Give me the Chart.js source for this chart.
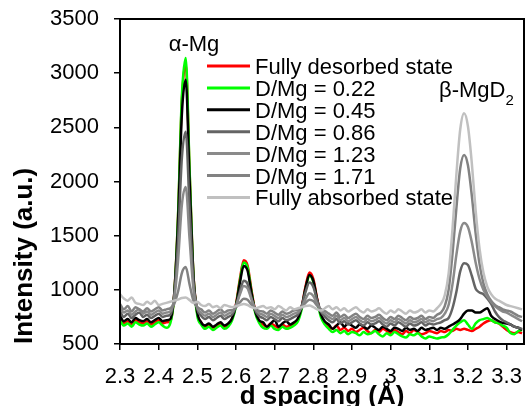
<!DOCTYPE html>
<html>
<head>
<meta charset="utf-8">
<script src="https://cdn.jsdelivr.net/npm/chart.js@4.4.0/dist/chart.umd.min.js"></script>
<style>
  html, body { margin: 0; padding: 0; background: #fff; }
</style>
</head>
<body>
<canvas id="myChart" width="529" height="406"></canvas>
<script>
// d spacing values (Å), one per measured point
const dSpacing = [
  2.30, 2.31, 2.32, 2.33, 2.34, 2.35, 2.36, 2.37, 2.38, 2.39, 2.40, 2.41, 2.42, 2.43,
  2.44, 2.45, 2.46, 2.47, 2.48, 2.49, 2.50,
  2.51, 2.52, 2.53, 2.54, 2.55, 2.56, 2.57, 2.58,
  2.59, 2.60, 2.61, 2.62, 2.63, 2.64, 2.65, 2.66,
  2.67, 2.68, 2.69, 2.70, 2.71, 2.72, 2.73, 2.74, 2.75,
  2.76, 2.77, 2.78, 2.79, 2.80, 2.81, 2.82, 2.83,
  2.84, 2.85, 2.86, 2.87, 2.88, 2.89, 2.90, 2.91, 2.92, 2.93, 2.94, 2.95, 2.96, 2.97,
  2.98, 2.99, 3.00, 3.01, 3.02, 3.03, 3.04, 3.05, 3.06, 3.07, 3.08, 3.09, 3.10, 3.11,
  3.12, 3.13, 3.14, 3.15, 3.16, 3.17, 3.18, 3.19, 3.20, 3.21, 3.22, 3.23, 3.24, 3.25,
  3.26, 3.27, 3.28, 3.29, 3.30, 3.31, 3.32, 3.33, 3.34
];

const desorbed = [
  740, 690, 710, 680, 720, 700, 690, 710, 680, 700, 720, 690, 700, 710,
  948, 1662, 2745, 3090, 2090, 1138, 780,
  700, 660, 680, 650, 670, 690, 660, 680,
  734, 868, 1097, 1273, 1225, 1000, 801, 710,
  680, 660, 690, 670, 650, 680, 660, 670, 690,
  724, 842, 1033, 1160, 1101, 915, 763, 695,
  660, 640, 670, 630, 650, 620, 640, 610, 630, 650, 620, 600, 630, 610,
  640, 620, 600, 630, 610, 590, 620, 600, 630, 610, 590, 600, 620, 610,
  600, 620, 610, 630, 620, 640, 630, 640, 630, 620, 640, 660, 690, 710,
  720, 700, 690, 660, 630, 610, 600, 610, 600
];
const dmg022 = [
  720, 670, 690, 660, 700, 680, 670, 690, 660, 680, 700, 670, 650, 690,
  935, 1670, 2785, 3140, 2111, 1131, 760,
  680, 640, 660, 630, 650, 670, 640, 660,
  718, 851, 1079, 1253, 1205, 983, 785, 695,
  650, 640, 670, 640, 630, 660, 640, 650, 670,
  708, 822, 1007, 1130, 1073, 893, 746, 679,
  640, 610, 630, 600, 620, 590, 610, 600, 580, 610, 590, 600, 620, 590,
  570, 600, 580, 610, 590, 570, 560, 590, 580, 600, 570, 550, 570, 560,
  550, 560, 565, 590, 630, 670, 700, 720, 680, 640, 690, 720, 730, 740,
  720, 700, 690, 670, 650, 600, 590, 620, 630
];
const dmg045 = [
  760, 710, 730, 700, 740, 720, 710, 730, 700, 720, 740, 710, 720, 730,
  951, 1614, 2620, 2940, 2012, 1128, 790,
  700, 670, 690, 660, 680, 700, 670, 690,
  738, 857, 1063, 1219, 1176, 976, 798, 717,
  700, 660, 690, 720, 660, 690, 710, 680, 700,
  735, 843, 1019, 1136, 1082, 911, 771, 708,
  680, 640, 670, 700, 660, 690, 670, 650, 680, 660, 640, 670, 650, 630,
  660, 640, 620, 650, 640, 620, 650, 630, 640, 620, 650, 630, 640, 650,
  630, 650, 640, 660, 680, 700, 730, 780, 810, 810, 790, 790, 810, 830,
  760, 730, 710, 695, 690, 680, 660, 650, 630
];
const dmg086 = [
  800, 750, 780, 740, 770, 790, 750, 770, 740, 760, 780, 750, 760, 770,
  939, 1446, 2215, 2460, 1750, 1074, 820,
  760, 730, 750, 720, 740, 760, 730, 750,
  771, 849, 982, 1083, 1055, 926, 810, 758,
  740, 720, 750, 730, 710, 740, 720, 730, 750,
  773, 852, 981, 1067, 1027, 902, 799, 753,
  720, 700, 730, 690, 710, 680, 700, 720, 690, 670, 700, 680, 690, 710,
  680, 660, 690, 670, 700, 680, 660, 690, 670, 680, 700, 670, 690, 680,
  690, 700, 720, 740, 830, 980, 1170, 1245, 1230, 1130, 1010, 975, 960, 920,
  870, 800, 750, 720, 700, 680, 660, 650, 640
];
const dmg123 = [
  830, 790, 810, 770, 800, 820, 780, 800, 770, 790, 810, 780, 790, 800,
  915, 1260, 1783, 1950, 1467, 1007, 835,
  790, 760, 780, 750, 770, 790, 760, 780,
  794, 854, 956, 1035, 1013, 913, 824, 784,
  770, 750, 780, 760, 740, 770, 750, 760, 780,
  790, 838, 916, 968, 944, 868, 806, 778,
  750, 730, 760, 720, 740, 710, 730, 750, 720, 700, 730, 710, 720, 740,
  710, 690, 720, 700, 730, 710, 690, 720, 700, 710, 730, 700, 720, 710,
  730, 740, 780, 860, 1050, 1320, 1540, 1617, 1580, 1440, 1250, 1100, 1000, 940,
  890, 850, 820, 800, 790, 770, 750, 730, 710
];
const dmg171 = [
  870, 820, 850, 800, 840, 820, 800, 830, 800, 820, 840, 810, 820, 830,
  868, 982, 1155, 1210, 1050, 898, 841,
  820, 790, 810, 780, 800, 820, 790, 810,
  811, 837, 883, 918, 908, 864, 824, 806,
  800, 780, 810, 790, 770, 800, 780, 790, 810,
  811, 837, 880, 909, 896, 854, 820, 804,
  780, 760, 790, 750, 770, 740, 760, 780, 750, 730, 760, 740, 750, 770,
  740, 720, 750, 730, 760, 740, 720, 750, 730, 740, 760, 730, 750, 740,
  770, 790, 850, 1000, 1330, 1750, 2120, 2245, 2150, 1870, 1520, 1240, 1060, 960,
  900, 860, 840, 820, 810, 800, 780, 760, 750
];
const absorbed = [
  960, 920, 900, 930, 880, 870, 860, 890, 870, 900, 860, 870, 880, 890,
  900, 910, 925, 930, 905, 880, 890,
  860, 850, 870, 840, 850, 830, 860, 850,
  840, 850, 860, 870, 860, 840, 830, 840,
  850, 830, 840, 820, 850, 830, 810, 840, 820,
  830, 840, 850, 855, 840, 820, 810, 830,
  850, 820, 840, 810, 830, 800, 820, 840, 810, 790, 820, 800, 810, 830,
  800, 780, 810, 790, 820, 800, 780, 810, 790, 800, 820, 790, 810, 800,
  830, 870, 950, 1150, 1560, 2060, 2480, 2630, 2510, 2170, 1730, 1380, 1160, 1030,
  960, 920, 900, 880, 860, 850, 840, 830, 820
];

const seriesNames = ['Fully desorbed state', 'D/Mg = 0.22', 'D/Mg = 0.45', 'D/Mg = 0.86',
  'D/Mg = 1.23', 'D/Mg = 1.71', 'Fully absorbed state'];
const seriesValues = [desorbed, dmg022, dmg045, dmg086, dmg123, dmg171, absorbed];
const seriesColors = ['#ff0000', '#00ff00', '#000000', '#646464', '#8a8a8a', '#828282', '#c0c0c0'];

const xTicks = [2.3, 2.4, 2.5, 2.6, 2.7, 2.8, 2.9, 3.0, 3.1, 3.2, 3.3];
const yTicks = [500, 1000, 1500, 2000, 2500, 3000, 3500];

const FONT = 'Arial, "Liberation Sans", sans-serif';

// box round the plot, legend and peak labels
const extras = {
  id: 'extras',
  afterDatasetsDraw(chart) {
    const { ctx, chartArea } = chart;
    ctx.save();
    ctx.strokeStyle = '#000';
    ctx.lineWidth = 2;
    ctx.strokeRect(chartArea.left, chartArea.top,
      chartArea.right - chartArea.left, chartArea.bottom - chartArea.top);

    // legend
    ctx.font = '22px ' + FONT;
    ctx.textBaseline = 'middle';
    ctx.fillStyle = '#000';
    seriesNames.forEach((name, i) => {
      const y = 66 + i * 21.9;
      ctx.strokeStyle = seriesColors[i];
      ctx.lineWidth = 3;
      ctx.beginPath();
      ctx.moveTo(207, y);
      ctx.lineTo(250, y);
      ctx.stroke();
      ctx.fillText(name, 255, y + 2);
    });

    // peak labels
    ctx.textBaseline = 'alphabetic';
    ctx.textAlign = 'center';
    ctx.fillText('α-Mg', 194, 51);
    ctx.textAlign = 'left';
    ctx.fillText('β-MgD', 439, 97);
    const w = ctx.measureText('β-MgD').width;
    ctx.font = '15px ' + FONT;
    ctx.fillText('2', 439 + w, 105);
    ctx.restore();
  }
};

new Chart(document.getElementById('myChart'), {
  type: 'line',
  data: {
    datasets: seriesNames.map((name, i) => ({
      label: name,
      data: dSpacing.map((d, k) => ({ x: d, y: seriesValues[i][k] })),
      borderColor: seriesColors[i],
      borderWidth: 2.5,
      pointRadius: 0,
      fill: false,
      cubicInterpolationMode: 'monotone',
      order: seriesNames.length - 1 - i,
    })),
  },
  options: {
    responsive: false,
    animation: false,
    devicePixelRatio: 1,
    layout: { padding: { top: 19, right: 5, left: 0, bottom: 0 } },
    plugins: { legend: { display: false }, tooltip: { enabled: false } },
    scales: {
      x: {
        type: 'linear',
        min: 2.3,
        max: 3.345,
        afterBuildTicks: (sc) => { sc.ticks = xTicks.map((v) => ({ value: v })); },
        afterFit: (sc) => { sc.height = 62; sc.paddingLeft = 0; sc.paddingRight = 0; },
        ticks: {
          autoSkip: false,
          maxRotation: 0,
          padding: 14,
          color: '#000',
          font: { family: FONT, size: 22 },
          callback: (v) => String(Math.round(v * 10) / 10),
        },
        grid: { drawOnChartArea: false, drawTicks: true, tickLength: 6, color: '#000', lineWidth: 1.5 },
        border: { display: true, color: '#000', width: 2 },
        title: {
          display: true,
          text: 'd spacing (Å)',
          color: '#000',
          padding: 0,
          font: { family: FONT, size: 26, weight: 'bold', lineHeight: 0.7 },
        },
      },
      y: {
        min: 500,
        max: 3500,
        afterBuildTicks: (sc) => { sc.ticks = yTicks.map((v) => ({ value: v })); },
        afterFit: (sc) => { sc.width = 120; sc.paddingTop = 0; sc.paddingBottom = 0; },
        ticks: {
          padding: 15,
          color: '#000',
          font: { family: FONT, size: 22 },
          callback: (v) => String(v),
        },
        grid: { drawOnChartArea: false, drawTicks: true, tickLength: 6, color: '#000', lineWidth: 1.5 },
        border: { display: true, color: '#000', width: 2 },
        title: {
          display: true,
          text: 'Intensity (a.u.)',
          align: 'start',
          color: '#000',
          padding: { top: 9, bottom: 0 },
          font: { family: FONT, size: 26, weight: 'bold' },
        },
      },
    },
  },
  plugins: [extras],
});
</script>
</body>
</html>
